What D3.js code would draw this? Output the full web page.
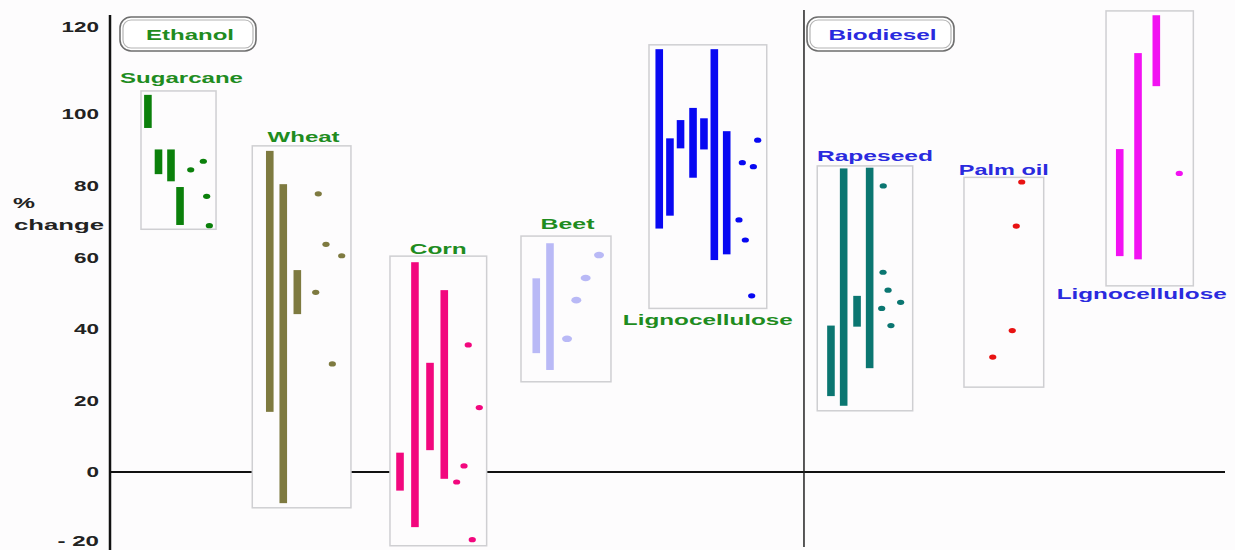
<!DOCTYPE html>
<html>
<head>
<meta charset="utf-8">
<script src="https://cdn.jsdelivr.net/npm/d3@7"></script>
<style>
  body { margin: 0; background: #fdfcfd; }
  svg { display: block; font-family: "Liberation Sans", Arial, sans-serif; font-weight: bold; }
</style>
</head>
<body>
<svg width="1235" height="550"></svg>
<script>
// group names, fuel type, colour
const crops = ["Sugarcane", "Wheat", "Corn", "Beet", "Lignocellulose", "Rapeseed", "Palm oil", "Lignocellulose"];
const fuels = ["Ethanol", "Ethanol", "Ethanol", "Ethanol", "Ethanol", "Biodiesel", "Biodiesel", "Biodiesel"];
const cropColors = ["#0b800b", "#7e7a40", "#f2077e", "#b9b9f6", "#0808f2", "#0b7671", "#e81212", "#f212f2"];

// box extents (x in position units, y in % change)
const boxLeft = [2.78, 12.76, 25.11, 36.86, 48.34, 63.43, 76.59, 89.33];
const boxRight = [9.51, 21.61, 33.78, 44.93, 58.9, 71.99, 83.74, 97.16];
const boxTop = [105.3, 91.1, 60.3, 65.9, 115.9, 85.5, 82.3, 123.7];
const boxBottom = [67.8, -10.0, -20.6, 25.2, 45.7, 17.1, 23.7, 52.0];

// ranges: [position, high, low]
const sugarcaneRanges = [[3.4, 104.4, 96.1], [4.35, 90.1, 83.2], [5.47, 90.1, 81.2], [6.28, 79.6, 69.0]];
const wheatRanges = [[14.33, 89.7, 16.8], [15.54, 80.4, -8.7], [16.8, 56.4, 44.1]];
const cornRanges = [[26.01, 5.4, -5.2], [27.35, 58.6, -15.4], [28.7, 30.5, 6.1], [29.98, 50.8, -1.9]];
const beetRanges = [[38.23, 54.1, 33.2], [39.46, 63.9, 28.5]];
const lignoEthRanges = [[49.26, 114.9, 68.0], [50.22, 93.2, 71.6], [51.17, 98.3, 90.4], [52.29, 101.4, 82.2],
  [53.27, 98.8, 90.1], [54.2, 114.9, 59.2], [55.31, 95.2, 60.8]];
const rapeseedRanges = [[64.66, 40.9, 21.2], [65.8, 84.8, 18.5], [67.0, 49.2, 40.6], [68.13, 85.0, 29.0]];
const palmRanges = [];
const lignoBioRanges = [[90.56, 90.2, 60.3], [92.2, 114.0, 59.4], [93.84, 122.7, 106.4]];

// single estimates: [position, value]
const sugarcanePoints = [[7.24, 84.4], [8.37, 86.8], [8.67, 77.0], [8.91, 68.8]];
const wheatPoints = [[18.68, 77.7], [19.37, 63.6], [20.78, 60.4], [18.45, 50.2], [19.94, 30.2]];
const cornPoints = [[32.13, 35.5], [33.12, 18.0], [31.75, 1.7], [31.09, -2.8], [32.49, -18.9]];
const beetPoints = [[43.86, 60.6], [42.66, 54.2], [41.82, 48.0], [40.99, 37.2]];
const lignoEthPoints = [[58.09, 92.7], [56.71, 86.4], [57.7, 85.3], [56.41, 70.4], [56.98, 64.8], [57.55, 49.2]];
const rapeseedPoints = [[69.35, 79.9], [69.33, 55.8], [69.78, 50.8], [70.91, 47.4], [69.21, 45.7], [70.04, 40.9]];
const palmPoints = [[81.77, 81.0], [81.28, 68.7], [80.92, 39.5], [79.17, 32.1]];
const lignoBioPoints = [[95.9, 83.4]];

const yTicks = [-20, 0, 20, 40, 60, 80, 100, 120];
const dividerAt = 62.24;

const ranges = [sugarcaneRanges, wheatRanges, cornRanges, beetRanges, lignoEthRanges, rapeseedRanges, palmRanges, lignoBioRanges];
const points = [sugarcanePoints, wheatPoints, cornPoints, beetPoints, lignoEthPoints, rapeseedPoints, palmPoints, lignoBioPoints];

// label layout (side of the box, nudges, stretched width)
const labelLayout = [
  { side: "top", dx: 3, gap: 8, w: 123 },
  { side: "top", dx: 2, gap: 3.5, w: 72 },
  { side: "top", dx: 0, gap: 2, w: 57 },
  { side: "top", dx: 1.5, gap: 7, w: 54 },
  { side: "bottom", dx: 0, gap: 17, w: 170 },
  { side: "top", dx: 10, gap: 5, w: 116 },
  { side: "top", dx: 0, gap: 2.6, w: 90 },
  { side: "bottom", dx: -8, gap: 13, w: 170 }
];
const fuelColor = { Ethanol: "#1f8c1f", Biodiesel: "#2a2ade" };

const svg = d3.select("svg");

const x = d3.scaleLinear().domain([0, 100]).range([110, 1225]);
// the printed axis is not quite even above 100
const y = d3.scaleLinear().domain([-20, 0, 100, 120]).range([543.6, 472, 114, 27]);

// zero line
svg.append("line")
  .attr("x1", x(0)).attr("x2", x(100))
  .attr("y1", y(0)).attr("y2", y(0))
  .attr("stroke", "#111").attr("stroke-width", 2);

// divider between ethanol and biodiesel
svg.append("line")
  .attr("x1", x(dividerAt)).attr("x2", x(dividerAt))
  .attr("y1", 10).attr("y2", 547)
  .attr("stroke", "#222").attr("stroke-width", 1.5);

// y axis
const yAxis = svg.append("g")
  .attr("transform", `translate(${x(0)},0)`)
  .call(d3.axisLeft(y).tickValues(yTicks).tickSize(0).tickPadding(11)
    .tickFormat(d => (d < 0 ? "- " + Math.abs(d) : d)));
yAxis.select(".domain").remove();
yAxis.append("line")
  .attr("y1", 15).attr("y2", 550)
  .attr("stroke", "#111").attr("stroke-width", 2.5);
yAxis.selectAll(".tick text")
  .attr("fill", "#222")
  .attr("font-size", 15)
  .attr("font-weight", "bold")
  .attr("font-family", "Liberation Sans, Arial, sans-serif")
  .attr("lengthAdjust", "spacingAndGlyphs")
  .attr("textLength", d => String(d).length * 12.5 + (d < 0 ? 4 : 0))
  .attr("y", d => (d < 0 ? -3 : 0)); // keep the lowest label inside the frame

svg.append("text").text("%")
  .attr("x", 13).attr("y", 208)
  .attr("font-size", 15).attr("fill", "#222")
  .attr("textLength", 22).attr("lengthAdjust", "spacingAndGlyphs");
svg.append("text").text("change")
  .attr("x", 14).attr("y", 230)
  .attr("font-size", 15).attr("fill", "#222")
  .attr("textLength", 90).attr("lengthAdjust", "spacingAndGlyphs");

// one group per crop
crops.forEach((crop, i) => {
  const g = svg.append("g");
  const color = cropColors[i];

  g.append("rect")
    .attr("x", x(boxLeft[i]))
    .attr("y", y(boxTop[i]))
    .attr("width", x(boxRight[i]) - x(boxLeft[i]))
    .attr("height", y(boxBottom[i]) - y(boxTop[i]))
    .attr("fill", "#fdfcfd")
    .attr("stroke", "#cfcfd2")
    .attr("stroke-width", 1.5);

  g.selectAll("rect.range")
    .data(ranges[i])
    .join("rect")
    .attr("class", "range")
    .attr("x", d => x(d[0]) - 3.8)
    .attr("y", d => y(d[1]))
    .attr("width", 7.6)
    .attr("height", d => y(d[2]) - y(d[1]))
    .attr("fill", color);

  const big = crop === "Beet";
  g.selectAll("ellipse")
    .data(points[i])
    .join("ellipse")
    .attr("cx", d => x(d[0]))
    .attr("cy", d => y(d[1]))
    .attr("rx", big ? 5 : 3.6)
    .attr("ry", big ? 3.3 : 2.6)
    .attr("fill", color);

  const lay = labelLayout[i];
  const cx = (x(boxLeft[i]) + x(boxRight[i])) / 2 + lay.dx;
  const ly = lay.side === "top" ? y(boxTop[i]) - lay.gap : y(boxBottom[i]) + lay.gap;
  g.append("text")
    .text(crop)
    .attr("x", cx - lay.w / 2)
    .attr("y", ly)
    .attr("font-size", 15.5)
    .attr("fill", fuelColor[fuels[i]])
    .attr("textLength", lay.w)
    .attr("lengthAdjust", "spacingAndGlyphs");
});

// fuel buttons
const buttons = [
  { name: "Ethanol", left: 120, w: 136, tw: 88 },
  { name: "Biodiesel", left: 807, w: 147, tw: 108 }
];
buttons.forEach(b => {
  const g = svg.append("g").attr("transform", `translate(${b.left},17)`);
  g.append("rect")
    .attr("width", b.w).attr("height", 34).attr("rx", 11)
    .attr("fill", "#fff").attr("stroke", "#6e6e6e").attr("stroke-width", 1.6);
  g.append("rect")
    .attr("x", 3).attr("y", 3)
    .attr("width", b.w - 6).attr("height", 28).attr("rx", 8)
    .attr("fill", "#fff").attr("stroke", "#b4b4b4").attr("stroke-width", 1.2);
  g.append("text")
    .text(b.name)
    .attr("x", b.w / 2 - b.tw / 2 + 2)
    .attr("y", 22.5)
    .attr("font-size", 15)
    .attr("fill", fuelColor[b.name])
    .attr("textLength", b.tw)
    .attr("lengthAdjust", "spacingAndGlyphs");
});
</script>
</body>
</html>
